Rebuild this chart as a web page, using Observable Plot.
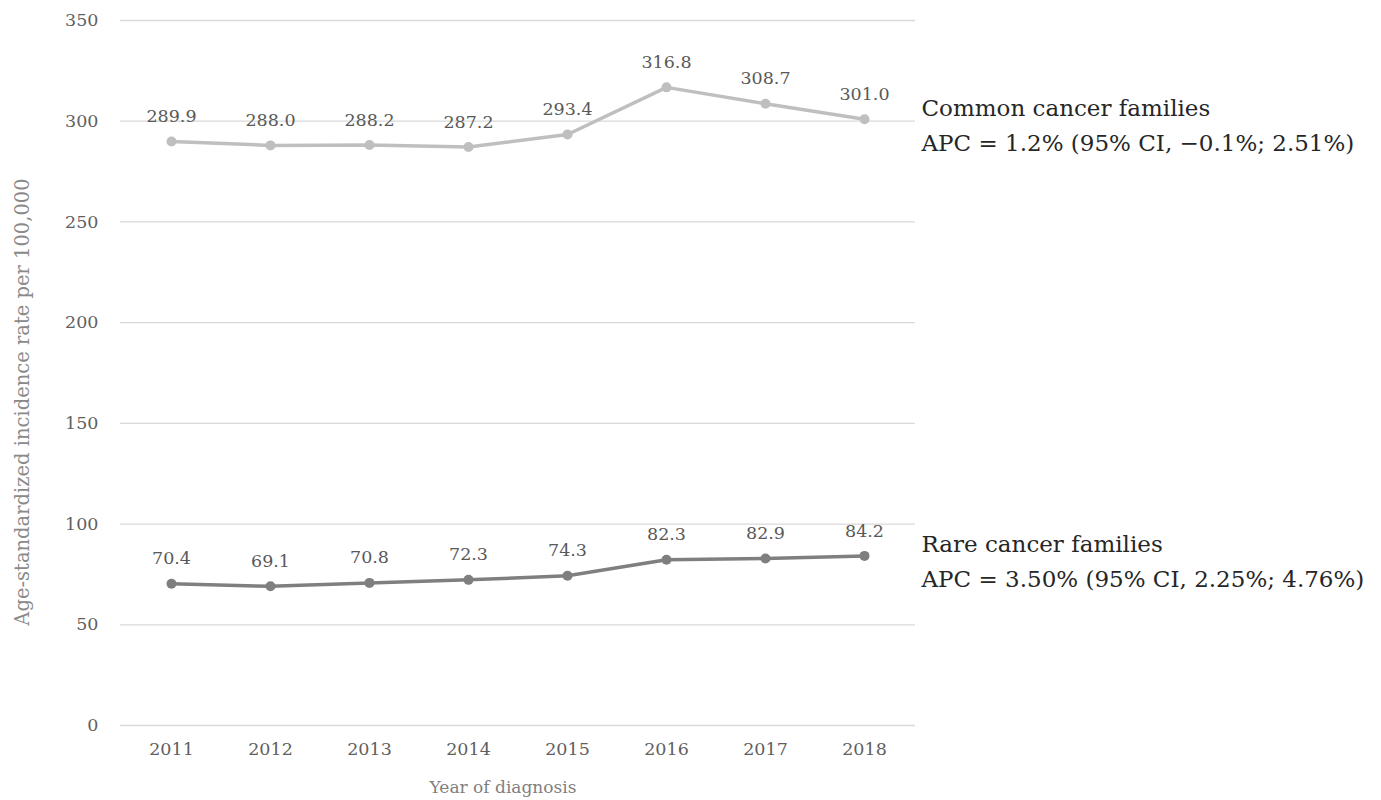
<!DOCTYPE html>
<html><head><meta charset="utf-8">
<script src="https://cdn.jsdelivr.net/npm/d3@7"></script>
<script src="https://cdn.jsdelivr.net/npm/@observablehq/plot@0.6"></script>
<style>body{margin:0;background:#fff} svg{font-family:"DejaVu Serif",serif}</style>
</head><body><div id="chart"></div>
<script>
const years = ["2011","2012","2013","2014","2015","2016","2017","2018"];
const common = [289.9, 288.0, 288.2, 287.2, 293.4, 316.8, 308.7, 301.0];
const rare = [70.4, 69.1, 70.8, 72.3, 74.3, 82.3, 82.9, 84.2];
const seriesNames = ["Common cancer families", "Rare cancer families"];
const seriesNotes = ["APC = 1.2% (95% CI, \u22120.1%; 2.51%)", "APC = 3.50% (95% CI, 2.25%; 4.76%)"];
const seriesColors = ["#bfbfbf", "#7f7f7f"];
const yTicks = [0, 50, 100, 150, 200, 250, 300, 350];
const xTitle = "Year of diagnosis";
const yTitle = "Age-standardized incidence rate per 100,000";

const rows = [];
[common, rare].forEach((vals, s) => vals.forEach((v, i) => rows.push({series: seriesNames[s], year: years[i], v})));
const notes = seriesNames.map((name, s) => ({series: name, year: years[years.length-1], v: [common, rare][s][years.length-1], text: name + "\n" + seriesNotes[s]}));

const chart = Plot.plot({
  width: 1381, height: 800,
  marginLeft: 120, marginRight: 466, marginTop: 20, marginBottom: 75,
  style: {fontFamily: "DejaVu Serif, serif", fontSize: "17.5px", color: "#5f5f5f", background: "#fff"},
  x: {type: "point", domain: years, padding: 0.5, label: null, tickSize: 0, tickPadding: 17},
  y: {domain: [0, 350], ticks: yTicks, tickSize: 0, tickPadding: 22, label: null},
  color: {domain: seriesNames, range: seriesColors},
  marks: [
    Plot.ruleY(yTicks, {stroke: "#d9d9d9", strokeWidth: 1.3}),
    Plot.line(rows, {x: "year", y: "v", z: "series", stroke: "series", strokeWidth: 3.5}),
    Plot.dot(rows, {x: "year", y: "v", fill: "series", r: 5}),
    Plot.text(rows, {x: "year", y: "v", text: d => d.v.toFixed(1), dy: -25, fill: "#595959", fontSize: 17.5}),
    Plot.text(notes.slice(0, 1), {x: "year", y: "v", text: "text", dx: 57, dy: 3, textAnchor: "start", lineHeight: 1.52, fill: "#262626", fontSize: 23}),
    Plot.text(notes.slice(1), {x: "year", y: "v", text: "text", dx: 57, dy: 2, textAnchor: "start", lineHeight: 1.52, fill: "#262626", fontSize: 23}),
    Plot.text([xTitle], {frameAnchor: "bottom", dx: -15, dy: 62, lineAnchor: "middle", fill: "#7f7f7f", fontSize: 17}),
    Plot.text([yTitle], {frameAnchor: "left", textAnchor: "middle", rotate: -90, dx: -98, dy: 29, lineAnchor: "middle", fill: "#8a8a8a", fontSize: 19.5})
  ]
});
document.getElementById("chart").appendChild(chart);
</script>
</body></html>
